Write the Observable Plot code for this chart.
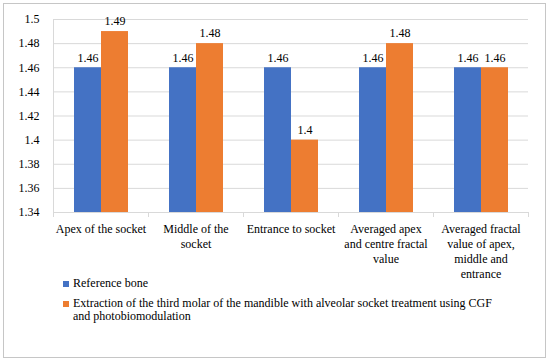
<!DOCTYPE html>
<html>
<head>
<meta charset="utf-8">
<script src="https://cdn.jsdelivr.net/npm/d3@7"></script>
<script src="https://cdn.jsdelivr.net/npm/@observablehq/plot@0.6"></script>
<style>
  html, body { margin: 0; padding: 0; background: #fff; }
  #box {
    position: absolute; left: 3px; top: 3px; width: 543px; height: 355px;
    box-sizing: border-box; border: 1px solid #c6c6c6; background: #fff;
    font-family: "Liberation Serif", "Times New Roman", "DejaVu Serif", serif; color: #000;
  }
  #chart svg { display: block; font-family: "Liberation Serif", "Times New Roman", "DejaVu Serif", serif !important; }
  #chart svg text { font-family: "Liberation Serif", "Times New Roman", "DejaVu Serif", serif !important; }
  #legend { position: absolute; left: 59px; top: 273px; font-size: 12px; line-height: 13px; }
  .item { display: flex; align-items: flex-start; }
  .item + .item { margin-top: 7px; }
  .sw { width: 6px; height: 6px; margin-top: 3.5px; margin-right: 4px; flex: none; }
  .lab { width: 420px; }
</style>
</head>
<body>
<div id="box">
  <div id="chart"></div>
  <div id="legend"></div>
</div>
<script>
const categories = [
  "Apex of the socket",
  "Middle of the socket",
  "Entrance to socket",
  "Averaged apex and centre fractal value",
  "Averaged fractal value of apex, middle and entrance"
];
const tickLabels = [
  "Apex of the socket",
  "Middle of the\nsocket",
  "Entrance to socket",
  "Averaged apex\nand centre fractal\nvalue",
  "Averaged fractal\nvalue of apex,\nmiddle and\nentrance"
];
const series = [
  "Reference bone",
  "Extraction of the third molar of the mandible with alveolar socket treatment using CGF and photobiomodulation"
];
const referenceValues = [1.46, 1.46, 1.46, 1.46, 1.46];
const treatmentValues = [1.49, 1.48, 1.4, 1.48, 1.46];
const yTicks = [1.34, 1.36, 1.38, 1.4, 1.42, 1.44, 1.46, 1.48, 1.5];
const colors = ["#4472C4", "#ED7D31"];

const data = [];
categories.forEach((c, i) => {
  data.push({category: c, series: series[0], value: referenceValues[i]});
  data.push({category: c, series: series[1], value: treatmentValues[i]});
});

const W = 541, H = 278;
const mTop = 15, mBottom = 70;
const gridColor = "#d9d9d9";
const serif = "'Liberation Serif', 'Times New Roman', 'DejaVu Serif', serif";

const chart = Plot.plot({
  width: W,
  height: H,
  marginLeft: 47,
  marginRight: 15,
  marginTop: mTop,
  marginBottom: mBottom,
  style: {fontFamily: serif, fontSize: "12px", color: "#000", background: "#fff"},
  fx: {domain: categories, padding: 0, axis: null},
  x: {domain: series, paddingInner: 0, paddingOuter: 0.755, axis: null},
  y: {domain: [yTicks[0], yTicks[yTicks.length - 1]], axis: null},
  color: {domain: series, range: colors},
  marks: [
    Plot.gridY(yTicks, {stroke: gridColor, strokeOpacity: 1, strokeWidth: 1}),
    Plot.axisY(yTicks, {tickSize: 0, tickPadding: 14, label: null, fontSize: 12, fontFamily: serif, tickFormat: d => String(d)}),
    Plot.barY(data, {fx: "category", x: "series", y1: () => yTicks[0], y2: "value", fill: "series"}),
    Plot.text(data, {fx: "category", x: "series", y: "value", text: d => String(d.value), dy: -10, fontSize: 12, fontFamily: serif, fill: "#000"}),
    Plot.frame({anchor: "left", facet: "super", stroke: gridColor, strokeOpacity: 1}),
    Plot.frame({anchor: "bottom", stroke: gridColor, strokeOpacity: 1}),
    Plot.frame({anchor: "left", stroke: gridColor, strokeOpacity: 1, insetTop: H - mTop - mBottom, insetBottom: -4}),
    Plot.frame({anchor: "right", stroke: gridColor, strokeOpacity: 1, insetTop: H - mTop - mBottom, insetBottom: -4}),
    Plot.text(categories, {fx: d => d, text: d => tickLabels[categories.indexOf(d)], frameAnchor: "bottom", lineAnchor: "top", dy: 10, lineHeight: 1.25, fontSize: 12, fontFamily: serif, fill: "#000"})
  ]
});
document.getElementById("chart").appendChild(chart);

const legend = document.getElementById("legend");
series.forEach((s, i) => {
  const item = document.createElement("div");
  item.className = "item";
  const sw = document.createElement("div");
  sw.className = "sw";
  sw.style.background = colors[i];
  const lab = document.createElement("div");
  lab.className = "lab";
  lab.textContent = s;
  item.appendChild(sw);
  item.appendChild(lab);
  legend.appendChild(item);
});
</script>
</body>
</html>
